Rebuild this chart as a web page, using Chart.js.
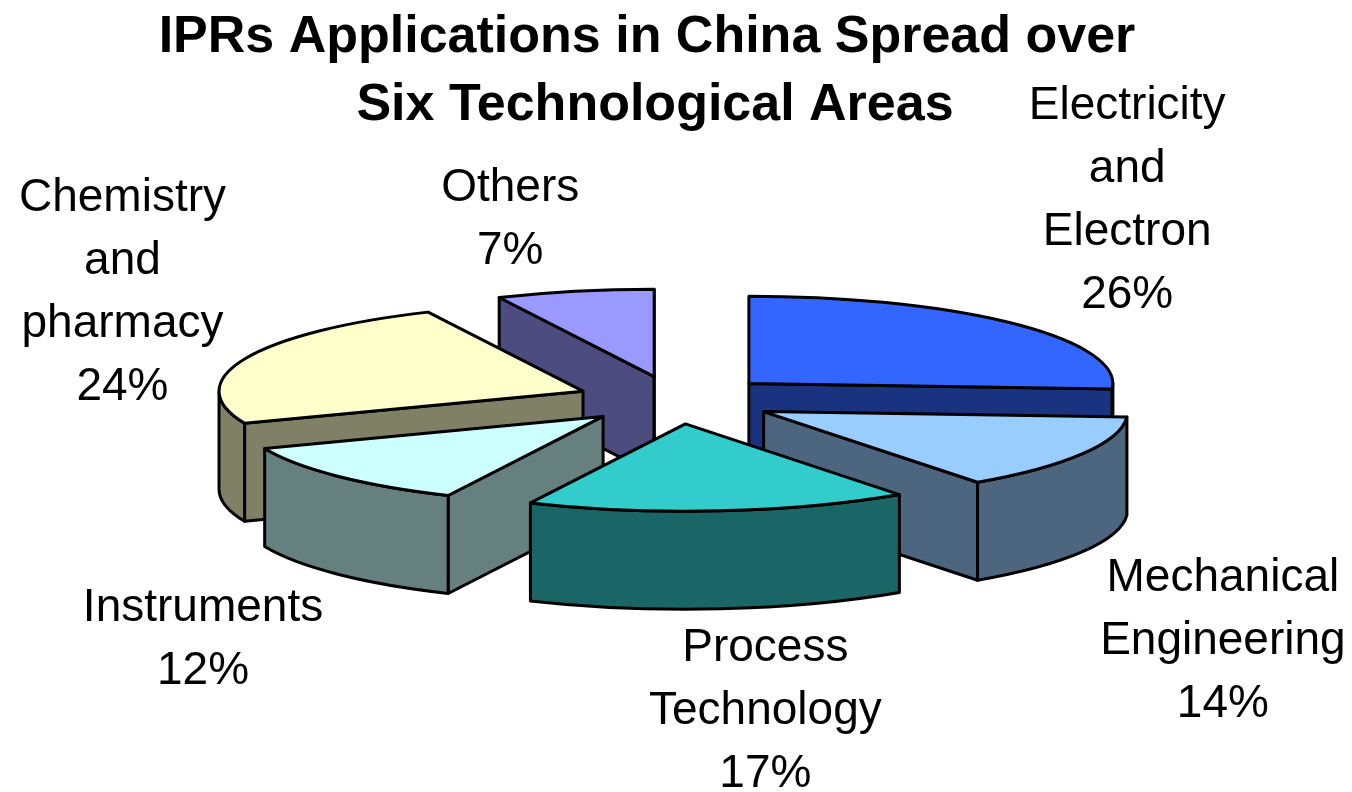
<!DOCTYPE html>
<html>
<head>
<meta charset="utf-8">
<title>IPRs Applications in China</title>
<script src="https://cdn.jsdelivr.net/npm/chart.js@4.4.1/dist/chart.umd.min.js"></script>
<style>
    html, body { margin: 0; padding: 0; background: #fff; }
    #wrap { width: 1352px; height: 792px; position: relative; }
</style>
</head>
<body>
<div id="wrap"><canvas id="pie-chart"></canvas></div>
<script>
const titleLines = ['IPRs Applications in China Spread over', 'Six Technological Areas'];
const categories = [
    ['Electricity', 'and', 'Electron'],
    ['Mechanical', 'Engineering'],
    ['Process', 'Technology'],
    ['Instruments'],
    ['Chemistry', 'and', 'pharmacy'],
    ['Others']
];
const shares = [26, 14, 17, 12, 24, 7];

const topColors = ['#3366ff', '#99ccff', '#33cccc', '#ccffff', '#ffffcc', '#9999ff'];
const sideColors = ['#1a3380', '#4c6680', '#1a6666', '#668080', '#808066', '#4c4c80'];

// look of the fake 3D pie
const tilt = 0.24;     // vertical squash of the disc
const depth = 98;      // height of the side walls (px)
const explode = 100;   // how far each slice is pulled out
const lineH = 63;      // label line spacing
const labelFont = '46px "Liberation Sans", Arial, sans-serif';
const titleFont = 'bold 52px "Liberation Sans", Arial, sans-serif';

function sliceGeom(arc) {
    const mid = (arc.startAngle + arc.endAngle) / 2;
    return {
        arc: arc,
        mid: mid,
        a0: arc.startAngle,
        a1: arc.endAngle,
        r: arc.outerRadius,
        cx: arc.x + Math.cos(mid) * explode,
        cy: arc.y + Math.sin(mid) * explode * tilt
    };
}

function pointAt(s, a) {
    return [s.cx + s.r * Math.cos(a), s.cy + tilt * s.r * Math.sin(a)];
}

function fillStroke(ctx, color) {
    ctx.fillStyle = color;
    ctx.fill();
    ctx.stroke();
}

// flat wall along one straight edge of a slice
function drawRadialFace(ctx, s, a, color) {
    const [x, y] = pointAt(s, a);
    ctx.beginPath();
    ctx.moveTo(s.cx, s.cy);
    ctx.lineTo(x, y);
    ctx.lineTo(x, y + depth);
    ctx.lineTo(s.cx, s.cy + depth);
    ctx.closePath();
    fillStroke(ctx, color);
}

// curved wall, only the part facing the viewer
function drawOuterWall(ctx, s, color) {
    const lo = Math.max(s.a0, 0);
    const hi = Math.min(s.a1, Math.PI);
    if (lo >= hi) return;
    const ry = s.r * tilt;
    ctx.beginPath();
    ctx.ellipse(s.cx, s.cy, s.r, ry, 0, lo, hi);
    ctx.ellipse(s.cx, s.cy + depth, s.r, ry, 0, hi, lo, true);
    ctx.closePath();
    fillStroke(ctx, color);
}

function drawTop(ctx, s) {
    const arc = s.arc;
    ctx.save();
    ctx.translate(arc.x, arc.y);
    ctx.scale(1, tilt);
    ctx.translate(-arc.x, -arc.y);
    ctx.translate(Math.cos(s.mid) * explode, Math.sin(s.mid) * explode);
    arc.draw(ctx);
    ctx.restore();

    ctx.beginPath();
    ctx.moveTo(s.cx, s.cy);
    ctx.ellipse(s.cx, s.cy, s.r, s.r * tilt, 0, s.a0, s.a1);
    ctx.closePath();
    ctx.stroke();
}

const clamp = (v) => Math.max(-1, Math.min(1, v));

const pie3d = {
    id: 'pie3d',
    beforeDatasetsDraw(chart) {
        const ctx = chart.ctx;
        const meta = chart.getDatasetMeta(0);
        const slices = meta.data.map((arc, i) => Object.assign(sliceGeom(arc), { index: i }));
        // paint from the back of the disc to the front
        slices.sort((p, q) => Math.sin(p.mid) - Math.sin(q.mid));

        ctx.save();
        ctx.lineWidth = 3;
        ctx.lineJoin = 'round';
        ctx.strokeStyle = '#000';
        slices.forEach(s => {
            const side = sideColors[s.index];
            if (Math.cos(s.a0) < 0) drawRadialFace(ctx, s, s.a0, side);
            if (Math.cos(s.a1) > 0) drawRadialFace(ctx, s, s.a1, side);
            drawOuterWall(ctx, s, side);
            drawTop(ctx, s);
        });
        ctx.restore();
        return false;
    },
    afterDraw(chart) {
        const ctx = chart.ctx;
        ctx.save();
        ctx.fillStyle = '#000';
        ctx.textAlign = 'center';

        ctx.font = titleFont;
        ctx.textBaseline = 'alphabetic';
        ctx.fillText(titleLines[0], 647, 52);
        ctx.fillText(titleLines[1], 655, 120);

        ctx.font = labelFont;
        ctx.textBaseline = 'middle';
        const gap = 20;
        chart.getDatasetMeta(0).data.forEach((arc, i) => {
            const s = sliceGeom(arc);
            const lines = categories[i].concat([shares[i] + '%']);
            const w = Math.max(...lines.map(t => ctx.measureText(t).width));
            const h = (lines.length - 1) * lineH + 40;
            const ux = Math.cos(s.mid);
            const uy = Math.sin(s.mid);
            const front = uy > 0;
            const ax = arc.x + (explode + s.r + gap) * ux;
            const ay = arc.y + (tilt * (explode + s.r) + gap) * uy + (front ? depth : 0);
            const bx = ax + w / 2 * clamp(4 * ux);
            const by = ay + h / 2 * clamp((front ? 2 : 1.4) * uy);
            lines.forEach((t, k) => {
                ctx.fillText(t, bx, by + (k - (lines.length - 1) / 2) * lineH);
            });
        });
        ctx.restore();
    }
};

const ctx = document.getElementById('pie-chart').getContext('2d');
new Chart(ctx, {
    type: 'pie',
    data: {
        labels: categories,
        datasets: [{
            data: shares,
            backgroundColor: topColors,
            borderWidth: 0,
            hoverOffset: 0
        }]
    },
    options: {
        responsive: true,
        maintainAspectRatio: false,
        animation: false,
        events: [],
        radius: 364,
        layout: { padding: { top: 8 } },
        plugins: {
            legend: { display: false },
            title: { display: false },
            tooltip: { enabled: false }
        }
    },
    plugins: [pie3d]
});
</script>
</body>
</html>
